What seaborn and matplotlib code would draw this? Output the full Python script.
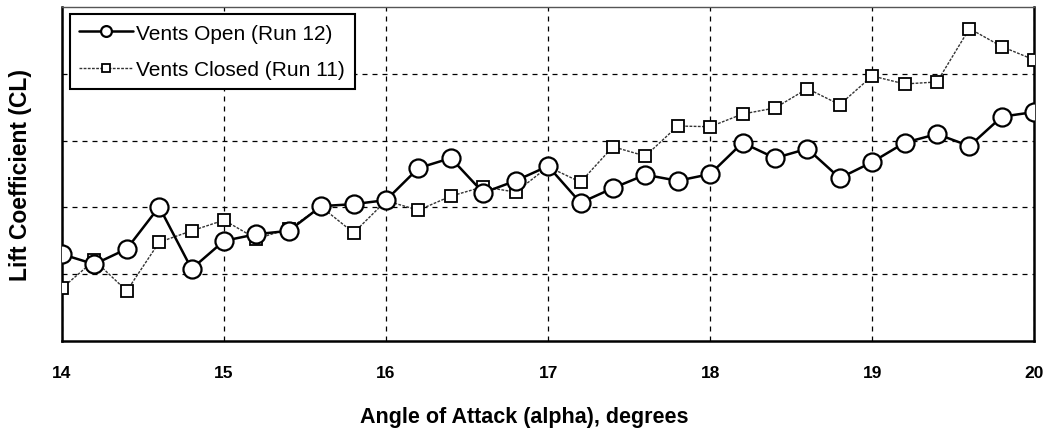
import numpy as np
import pandas as pd
import matplotlib
matplotlib.use("Agg")
import matplotlib.pyplot as plt
import seaborn as sns

alpha = [14.0, 14.2, 14.4, 14.6, 14.8, 15.0, 15.2, 15.4, 15.6, 15.8,
         16.0, 16.2, 16.4, 16.6, 16.8, 17.0, 17.2, 17.4, 17.6, 17.8,
         18.0, 18.2, 18.4, 18.6, 18.8, 19.0, 19.2, 19.4, 19.6, 19.8, 20.0]
cl_open = [1.30, 1.15, 1.38, 2.01, 1.08, 1.50, 1.60, 1.65, 2.02, 2.05,
           2.11, 2.59, 2.74, 2.22, 2.40, 2.62, 2.07, 2.29, 2.49, 2.40,
           2.50, 2.97, 2.74, 2.88, 2.44, 2.68, 2.97, 3.10, 2.92, 3.36, 3.43]
cl_closed = [0.79, 1.21, 0.75, 1.48, 1.65, 1.81, 1.53, 1.68, 2.01, 1.62,
             2.10, 1.96, 2.17, 2.31, 2.23, 2.61, 2.38, 2.91, 2.77, 3.22,
             3.21, 3.40, 3.49, 3.78, 3.54, 3.97, 3.85, 3.88, 4.68, 4.41, 4.21]
x_ticks = [14, 15, 16, 17, 18, 19, 20]
label_open = "Vents Open (Run 12)"
label_closed = "Vents Closed (Run 11)"

df_open = pd.DataFrame({"alpha": alpha, "CL": cl_open})
df_closed = pd.DataFrame({"alpha": alpha, "CL": cl_closed})

sns.set_theme(style="white")
plt.rcParams['font.family'] = ['Liberation Sans', 'DejaVu Sans']
plt.rcParams['text.color'] = 'black'
plt.rcParams['axes.labelcolor'] = 'black'
plt.rcParams['xtick.color'] = 'black'

fig = plt.figure(figsize=(10.5, 4.31), dpi=100)
ax = fig.add_axes([0.059, 0.2065, 0.926, 0.7745])

sns.lineplot(data=df_closed, x="alpha", y="CL", ax=ax, color="#333333",
             linewidth=1.0, linestyle=(0, (2, 1)), marker="s", markersize=9,
             markerfacecolor="white", markeredgecolor="black", markeredgewidth=1.3,
             label=label_closed, zorder=3)
sns.lineplot(data=df_open, x="alpha", y="CL", ax=ax, color="black",
             linewidth=1.8, marker="o", markersize=13,
             markerfacecolor="white", markeredgecolor="black", markeredgewidth=1.6,
             label=label_open, zorder=4)

ax.set_xlim(14, 20)
ax.set_ylim(0, 5)
ax.set_xticks(x_ticks)
ax.set_xticklabels([str(t) for t in x_ticks], fontsize=12.5, fontweight="bold")
ax.set_yticks([1, 2, 3, 4])
ax.set_yticklabels([])
ax.tick_params(axis="y", length=0)
ax.tick_params(axis="x", length=5, width=1, color="black", direction="out", pad=12)
ax.grid(True, color="black", linestyle=(0, (4, 4)), linewidth=0.9)
ax.set_axisbelow(True)

for side in ["left", "bottom", "right"]:
    ax.spines[side].set_color("black")
    ax.spines[side].set_linewidth(1.8)
ax.spines["top"].set_color("#555555")
ax.spines["top"].set_linewidth(1.0)

ax.set_xlabel("Angle of Attack (alpha), degrees", fontsize=15.5, fontweight="bold")
ax.xaxis.set_label_coords(0.475, -0.196)
ax.set_ylabel("Lift Coefficient (CL)", fontsize=16.5, fontweight="bold", labelpad=18)

handles, labels = ax.get_legend_handles_labels()
order = [labels.index(label_open), labels.index(label_closed)]
leg = ax.legend([handles[i] for i in order], [labels[i] for i in order],
                loc="upper left", bbox_to_anchor=(0.008, 0.979), fontsize=15,
                frameon=True, fancybox=False, edgecolor="black", framealpha=1,
                markerscale=0.6, handlelength=2.6, borderpad=0.45, labelspacing=0.85,
                handletextpad=0.15, borderaxespad=0)
leg.get_frame().set_linewidth(1.5)

fig.savefig("out.png", dpi=100)
